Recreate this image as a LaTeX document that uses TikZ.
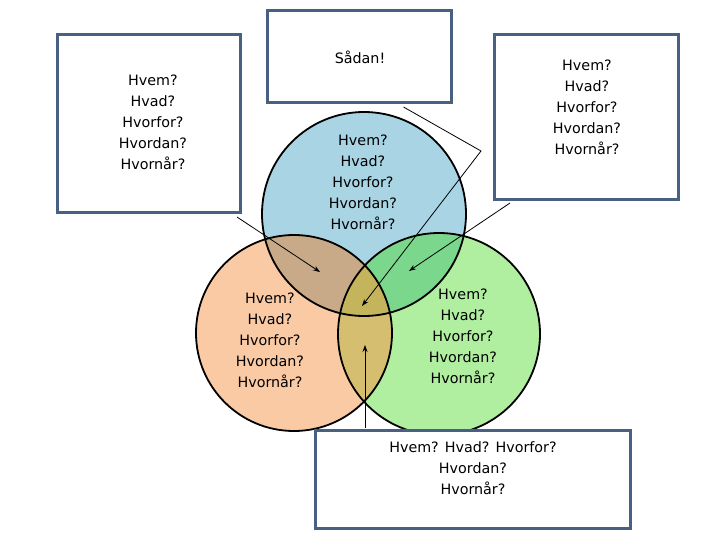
\documentclass[tikz,border=0pt]{standalone}
\usepackage{fontspec}
\setmainfont{DejaVu Sans}
\usetikzlibrary{arrows.meta,calc}
\definecolor{cblue}{RGB}{168,212,228}
\definecolor{corange}{RGB}{250,202,165}
\definecolor{cgreen}{RGB}{176,238,160}
\definecolor{cbo}{RGB}{200,170,136}
\definecolor{cbg}{RGB}{122,215,140}
\definecolor{cog}{RGB}{214,190,112}
\definecolor{cbog}{RGB}{196,180,92}
\definecolor{boxc}{RGB}{72,96,130}
\tikzset{
  qbox/.style={draw=boxc,line width=3pt,fill=white,inner sep=0pt},
  qtext/.style={align=center,font=\fontsize{14.3}{21}\selectfont,inner sep=0pt},
  ring/.style={draw=black,line width=1.8pt},
  pointer/.style={draw=black,line width=0.8pt,-{Stealth[length=7pt,width=5pt]}}
}
\begin{document}
\begin{tikzpicture}[x=1pt,y=-1pt]
\useasboundingbox[fill=white] (0,0) rectangle (720,540);
\coordinate (B) at (364,214);
\coordinate (O) at (294,333);
\coordinate (G) at (439,334);
\def\rb{102}\def\ro{98}\def\rg{101}
% base fills
\fill[cblue] (B) circle (\rb);
\fill[corange] (O) circle (\ro);
\fill[cgreen] (G) circle (\rg);
% pair overlaps
\begin{scope}\clip (B) circle (\rb); \fill[cbo] (O) circle (\ro); \end{scope}
\begin{scope}\clip (B) circle (\rb); \fill[cbg] (G) circle (\rg); \end{scope}
\begin{scope}\clip (O) circle (\ro); \fill[cog] (G) circle (\rg); \end{scope}
\begin{scope}\clip (B) circle (\rb); \clip (O) circle (\ro); \fill[cbog] (G) circle (\rg); \end{scope}
% outlines
\draw[ring] (B) circle (\rb);
\draw[ring] (O) circle (\ro);
\draw[ring] (G) circle (\rg);
% circle texts
\node[qtext] (tb) at (363,182) {Hvem?\\Hvad?\\Hvorfor?\\Hvordan?\\Hvornår?};
\node[qtext] (to) at (270,340) {Hvem?\\Hvad?\\Hvorfor?\\Hvordan?\\Hvornår?};
\node[qtext] (tg) at (463,336) {Hvem?\\Hvad?\\Hvorfor?\\Hvordan?\\Hvornår?};
% boxes
\node[qbox,minimum width=183pt,minimum height=178pt] (lbox) at (149,123.5) {};
\node[qtext] (lt) at (153,122) {Hvem?\\Hvad?\\Hvorfor?\\Hvordan?\\Hvornår?};
\node[qbox,minimum width=184pt,minimum height=92pt] (sbox) at (359.5,56.5) {};
\node[qtext] (st) at (360,57) {Sådan!};
\node[qbox,minimum width=184pt,minimum height=165pt] (rbox) at (586.5,117) {};
\node[qtext] (rt) at (587,107) {Hvem?\\Hvad?\\Hvorfor?\\Hvordan?\\Hvornår?};
\node[qbox,minimum width=315pt,minimum height=98pt] (bbox) at (473,479.5) {};
\node[qtext] (bt) at (473,468) {Hvem? Hvad? Hvorfor?\\Hvordan?\\Hvornår?};
% pointer ends
\coordinate (pl) at (320,272);
\coordinate (pbend) at (481,151);
\coordinate (ps) at (362,306);
\coordinate (pr) at (409,271);
\coordinate (pb) at (365,345);
\draw[pointer] ($(lbox.south east)+(-5,3)$) -- (pl);
\draw[pointer] ($(sbox.south)+(44,3)$) -- (pbend) -- (ps);
\draw[pointer] ($(rbox.south west)+(17,2)$) -- (pr);
\draw[pointer] ($(bbox.north west)+(51,-1.5)$) -- (pb);
\end{tikzpicture}
\end{document}
